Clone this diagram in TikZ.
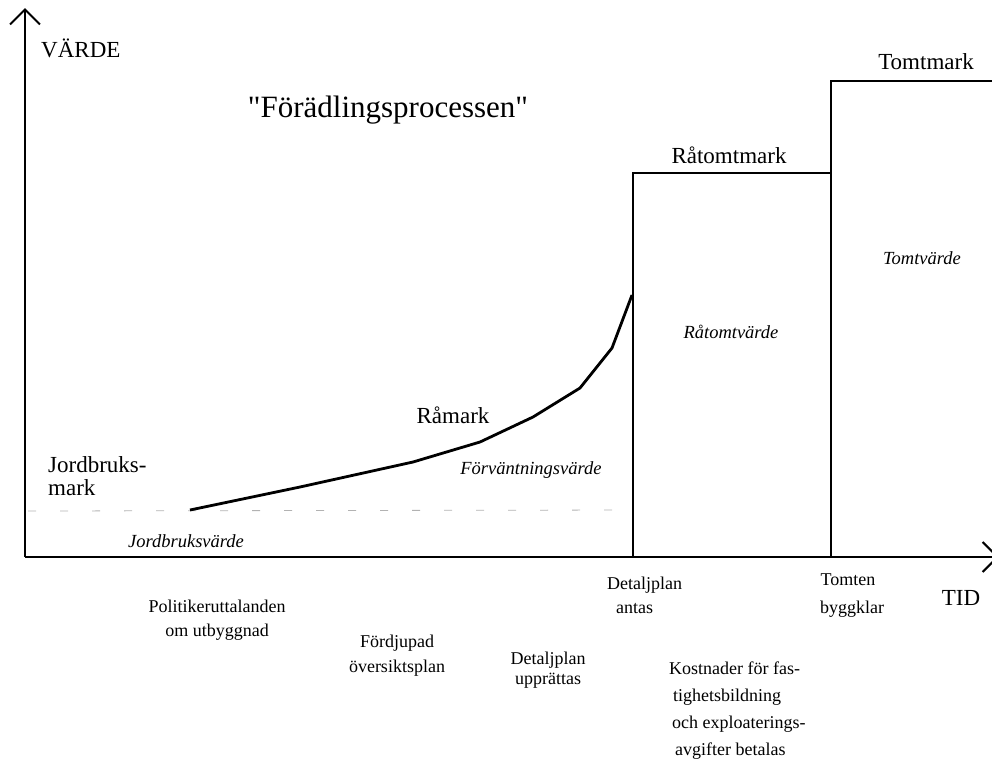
\documentclass[tikz,border=0pt]{standalone}
\usepackage{fontspec}
\setmainfont{Liberation Serif}
\newfontfamily\plainquotes[Ligatures=TeXOff]{Liberation Serif}
\usetikzlibrary{arrows.meta}
\begin{document}
\begin{tikzpicture}[x=1pt,y=-1pt,
  axisline/.style={line width=2.4pt,-{Straight Barb[length=15pt,width=30pt,line width=2pt]}},
  boxline/.style={line width=2.6pt},
  bigtxt/.style={font=\fontsize{23}{23}\selectfont,inner sep=0pt},
  smalltxt/.style={font=\fontsize{18}{24}\selectfont,align=center,inner sep=0pt},
  ittxt/.style={font=\fontsize{18.5}{20}\selectfont\itshape,inner sep=0pt},
  curveline/.style={line width=2.8pt,line join=round}]
\useasboundingbox (0,0) rectangle (992,761);
% axes
\coordinate (o) at (25,557);
\coordinate (ytop) at (25,8);
\coordinate (xend) at (999,557);
\draw[axisline] (o) -- (ytop);
\draw[axisline] (o) -- (xend);
% boxes
\coordinate (r1) at (633,557);
\coordinate (r2) at (633,173);
\coordinate (r3) at (831,173);
\coordinate (t1) at (831,557);
\coordinate (t2) at (831,81);
\coordinate (t3) at (992,81);
\draw[boxline] (r1) -- (r2) -- (r3);
\draw[boxline] (t1) -- (t2) -- (t3);
% dashed agricultural value line
\coordinate (d1) at (28,511);
\coordinate (d2) at (631,510);
\draw[gray!60,line width=0.8pt,dash pattern=on 8pt off 24pt] (d1) -- (d2);
% curve
\coordinate (c0) at (190,510);
\coordinate (c7) at (632,295);
\draw[curveline] (c0) -- (300,487) -- (413,462)
  -- (480,442) -- (533,417) -- (580,388) -- (612,348) -- (c7);
% labels
\node[bigtxt,anchor=west] (varde) at (41,48) {VÄRDE};
\node[font=\fontsize{31}{34}\selectfont\plainquotes,inner sep=0pt] (title) at (388,110) {"Förädlingsprocessen"};
\node[bigtxt] (ratomtmark) at (729,155) {Råtomtmark};
\node[bigtxt] (tomtmark) at (926,62) {Tomtmark};
\node[ittxt] (tomtvarde) at (922,258) {Tomtvärde};
\node[ittxt] (ratomtvarde) at (731,332) {Råtomtvärde};
\node[bigtxt] (ramark) at (453,415) {Råmark};
\node[bigtxt,align=left,anchor=west] (jordmark) at (48,476) {Jordbruks-\\mark};
\node[ittxt] (forv) at (531,470) {Förväntningsvärde};
\node[ittxt] (jordv) at (186,541) {Jordbruksvärde};
% time labels
\node[smalltxt,align=left,anchor=west] (dpantas) at (607,595) {Detaljplan\\\hspace{9pt}antas};
\node[smalltxt,font=\fontsize{18}{28}\selectfont] (tomten) at (848,596) {Tomten\\\hspace{8pt}byggklar};
\node[bigtxt] (tid) at (961,598) {TID};
\node[smalltxt] (polit) at (217,620) {Politikeruttalanden\\om utbyggnad};
\node[smalltxt,font=\fontsize{18}{25}\selectfont] (fordj) at (397,656) {Fördjupad\\översiktsplan};
\node[smalltxt,font=\fontsize{18}{20}\selectfont] (dpupp) at (548,670) {Detaljplan\\upprättas};
\node[smalltxt,align=left,anchor=west,font=\fontsize{18}{27}\selectfont] (kostn) at (669,711) {Kostnader för fas-\\\hspace{4pt}tighetsbildning\\\hspace{3pt}och exploaterings-\\\hspace{6pt}avgifter betalas};
\end{tikzpicture}
\end{document}
